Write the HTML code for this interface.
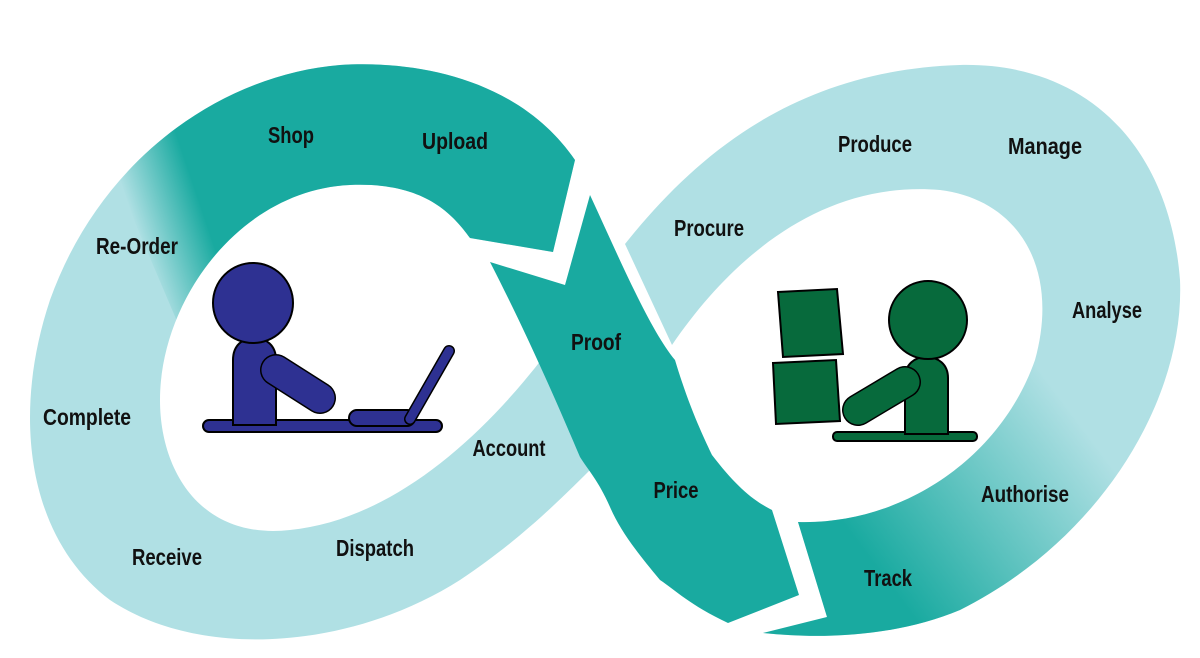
<!DOCTYPE html>
<html><head><meta charset="utf-8"><style>html,body{margin:0;padding:0;background:#fff}svg{display:block}</style></head>
<body>
<svg width="1200" height="658" viewBox="0 0 1200 658" xmlns="http://www.w3.org/2000/svg">
<defs>
<linearGradient id="gl" gradientUnits="userSpaceOnUse" x1="140" y1="240" x2="205" y2="218">
<stop offset="0" stop-color="#19aaa0" stop-opacity="0"/><stop offset="1" stop-color="#19aaa0"/></linearGradient>
<linearGradient id="gr" gradientUnits="userSpaceOnUse" x1="900" y1="600" x2="1100" y2="450">
<stop offset="0" stop-color="#19aaa0"/><stop offset="1" stop-color="#19aaa0" stop-opacity="0"/></linearGradient>
<clipPath id="cl"><polygon points="40,0 700,0 700,262 185,340"/></clipPath>
</defs>
<path fill="#b0e0e4" d="M575,160 C520,80 420,60 340,65 C220,75 100,160 50,300 C10,420 30,540 110,600 C200,660 350,650 460,580 C520,540 560,500 595,465 L545,355 C480,440 390,520 290,530 C200,540 160,470 160,400 C160,300 240,190 350,185 C420,182 450,210 470,238 L553,252 Z"/>
<path fill="url(#gl)" clip-path="url(#cl)" d="M575,160 C520,80 420,60 340,65 C220,75 100,160 50,300 C10,420 30,540 110,600 C200,660 350,650 460,580 C520,540 560,500 595,465 L545,355 C480,440 390,520 290,530 C200,540 160,470 160,400 C160,300 240,190 350,185 C420,182 450,210 470,238 L553,252 Z"/>
<path fill="#b0e0e4" d="M625,244 C700,150 800,70 960,65 C1090,62 1170,150 1180,280 C1185,400 1100,540 960,610 C900,635 830,640 763,633 L827,617 L798,522 C900,525 1000,460 1035,360 C1060,270 1020,200 940,190 C820,180 730,260 672,345 Z"/>
<path fill="url(#gr)" d="M1180,280 C1185,400 1100,540 960,610 C900,635 830,640 763,633 L827,617 L798,522 C900,525 1000,460 1035,360 L1100,300 Z"/>
<path fill="#19aaa0" d="M490,262 L565,285 L590,195 C620,260 650,330 675,360 C690,410 705,440 712,455 C735,485 752,500 772,510 L799,595 L728,623 C690,605 675,590 660,580 C635,550 620,530 610,507 C598,480 588,470 580,457 C560,410 530,340 490,262 Z"/>
<g fill="#2e3192" stroke="#000" stroke-width="2">
<rect x="203" y="420" width="239" height="12" rx="6"/>
<path d="M233,425 L233,360 C233,345 243,338 254,338 C266,338 276,345 276,360 L276,425 Z"/>
<line x1="276" y1="370" x2="320" y2="398" stroke="#000" stroke-width="32" stroke-linecap="round"/>
<line x1="276" y1="370" x2="320" y2="398" stroke="#2e3192" stroke-width="29" stroke-linecap="round"/>
<circle cx="253" cy="303" r="40"/>
<rect x="349" y="410" width="66" height="16" rx="8"/>
<line x1="410" y1="419" x2="449" y2="351" stroke="#000" stroke-width="12" stroke-linecap="round"/>
<line x1="410" y1="419" x2="449" y2="351" stroke="#2e3192" stroke-width="9" stroke-linecap="round"/>
</g>
<g fill="#076a3c" stroke="#000" stroke-width="2">
<polygon points="778,292 837,289 843,354 783,357"/>
<polygon points="773,363 836,360 840,421 776,424"/>
<rect x="833" y="432" width="144" height="9" rx="4"/>
<path d="M905,434 L905,378 C905,364 915,357 926,357 C938,357 948,364 948,378 L948,434 Z"/>
<line x1="905" y1="382" x2="858" y2="410" stroke="#000" stroke-width="32" stroke-linecap="round"/>
<line x1="905" y1="382" x2="858" y2="410" stroke="#076a3c" stroke-width="29" stroke-linecap="round"/>
<circle cx="928" cy="320" r="39"/>
</g>
<g font-family="Liberation Sans, sans-serif" font-weight="bold" font-size="23" fill="#111" text-anchor="middle">
<text x="291" y="143" textLength="46" lengthAdjust="spacingAndGlyphs">Shop</text>
<text x="455" y="149" textLength="66" lengthAdjust="spacingAndGlyphs">Upload</text>
<text x="137" y="254" textLength="82" lengthAdjust="spacingAndGlyphs">Re-Order</text>
<text x="87" y="425" textLength="88" lengthAdjust="spacingAndGlyphs">Complete</text>
<text x="167" y="565" textLength="70" lengthAdjust="spacingAndGlyphs">Receive</text>
<text x="375" y="556" textLength="78" lengthAdjust="spacingAndGlyphs">Dispatch</text>
<text x="509" y="456" textLength="73" lengthAdjust="spacingAndGlyphs">Account</text>
<text x="596" y="350" textLength="50" lengthAdjust="spacingAndGlyphs">Proof</text>
<text x="676" y="498" textLength="45" lengthAdjust="spacingAndGlyphs">Price</text>
<text x="709" y="236" textLength="70" lengthAdjust="spacingAndGlyphs">Procure</text>
<text x="875" y="152" textLength="74" lengthAdjust="spacingAndGlyphs">Produce</text>
<text x="1045" y="154" textLength="74" lengthAdjust="spacingAndGlyphs">Manage</text>
<text x="1107" y="318" textLength="70" lengthAdjust="spacingAndGlyphs">Analyse</text>
<text x="1025" y="502" textLength="88" lengthAdjust="spacingAndGlyphs">Authorise</text>
<text x="888" y="586" textLength="48" lengthAdjust="spacingAndGlyphs">Track</text>
</g>
</svg>
</body></html>
